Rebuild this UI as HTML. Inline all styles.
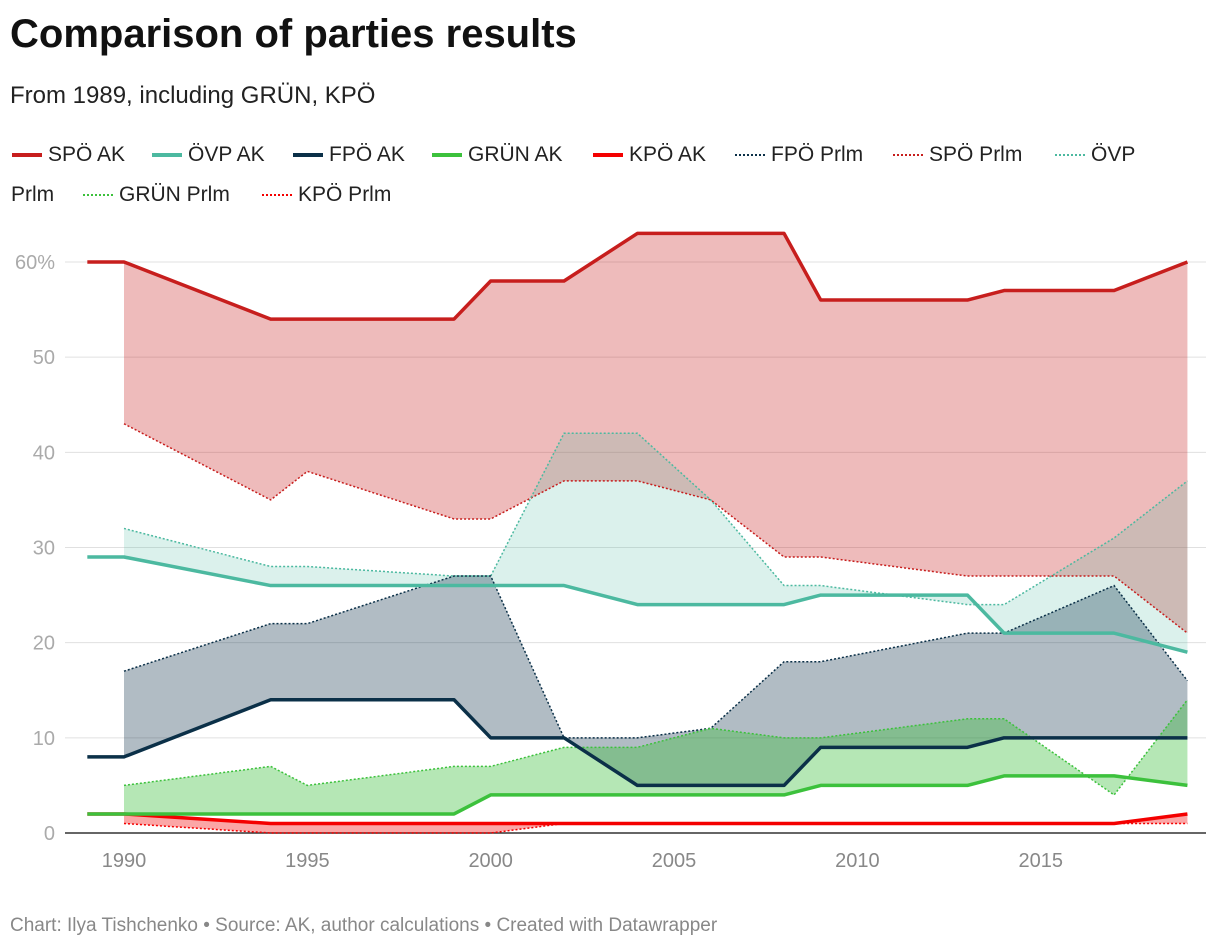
<!DOCTYPE html>
<html><head><meta charset="utf-8"><style>
body{margin:0;width:1220px;height:950px;background:#fff;font-family:"Liberation Sans",sans-serif;position:relative;overflow:hidden}
.t{position:absolute;white-space:nowrap}
.leg{position:absolute;font-size:21px;color:#222;white-space:nowrap}
</style></head><body>
<div class="t" style="left:10px;top:12px;font-size:40px;font-weight:bold;color:#111">Comparison of parties results</div>
<div class="t" style="left:10px;top:82px;font-size:24px;color:#222">From 1989, including GRÜN, KPÖ</div>
<div id="legend"></div>
<svg id="chart" width="1220" height="950" style="position:absolute;left:0;top:0"></svg>
<div class="t" style="left:10px;top:915px;font-size:19px;color:#888">Chart: Ilya Tishchenko • Source: AK, author calculations • Created with Datawrapper</div>
<script>
const years=[1989,1990,1994,1995,1999,2000,2002,2004,2006,2008,2009,2013,2014,2017,2019];
const spoAK=[60,60,54,54,54,58,58,63,63,63,56,56,57,57,60];
const ovpAK=[29,29,26,26,26,26,26,24,24,24,25,25,21,21,19];
const fpoAK=[8,8,14,14,14,10,10,5,5,5,9,9,10,10,10];
const grunAK=[2,2,2,2,2,4,4,4,4,4,5,5,6,6,5];
const kpoAK=[2,2,1,1,1,1,1,1,1,1,1,1,1,1,2];
const spoPr=[null,43,35,38,33,33,37,37,35,29,29,27,27,27,21];
const ovpPr=[null,32,28,28,27,27,42,42,35,26,26,24,24,31,37];
const fpoPr=[null,17,22,22,27,27,10,10,11,18,18,21,21,26,16];
const grunPr=[null,5,7,5,7,7,9,9,11,10,10,12,12,4,14];
const kpoPr=[null,1,0,0,0,0,1,1,1,1,1,1,1,1,1];
const yTicks=[0,10,20,30,40,50,60];
const xTicks=[1990,1995,2000,2005,2010,2015];
const X=y=>124+(y-1990)*36.67;
const Y=v=>833-v*9.517;
const NS="http://www.w3.org/2000/svg";
const svg=document.getElementById('chart');
function mk(tag,a){const e=document.createElementNS(NS,tag);for(const k in a)e.setAttribute(k,a[k]);svg.appendChild(e);return e;}
yTicks.forEach(v=>{
  const g=mk('line',{x1:65,x2:1206,y1:Y(v),y2:Y(v),stroke:v?'#e0e0e0':'#333','stroke-width':v?1:1.5});
  
  
  const t=mk('text',{x:55,y:Y(v)+7,'text-anchor':'end','font-size':20,fill:'#aaa'});
  t.textContent=v===60?'60%':v;
  
  
});
xTicks.forEach(v=>{
  const t=mk('text',{x:X(v),y:867,'text-anchor':'middle','font-size':20,fill:'#888'});
  t.textContent=v;
  
  
});
const parties=[
 ['spo',spoAK,spoPr,'#c71e1d',0.3],
 ['ovp',ovpAK,ovpPr,'#4cb9a0',0.2],
 ['fpo',fpoAK,fpoPr,'#0b3048',0.32],
 ['grun',grunAK,grunPr,'#3cc13c',0.38],
 ['kpo',kpoAK,kpoPr,'#f40000',0.35]];
parties.forEach(([n,ak,pr,c,op])=>{
  let top=[],bot=[];
  years.forEach((y,i)=>{if(pr[i]!==null){top.push(X(y)+','+Y(ak[i]));bot.unshift(X(y)+','+Y(pr[i]));}});
  const a=mk('polygon',{points:top.concat(bot).join(' '),fill:c,'fill-opacity':op});
  
  
});
parties.forEach(([n,ak,pr,c])=>{
  const p=years.map((y,i)=>pr[i]===null?null:X(y)+','+Y(pr[i])).filter(s=>s).join(' ');
  const l=mk('polyline',{points:p,fill:'none',stroke:c,'stroke-width':1.5,'stroke-dasharray':'2,2'});
  
  
});
parties.slice().reverse().forEach(([n,ak,pr,c])=>{
  const p=years.map((y,i)=>X(y)+','+Y(ak[i])).join(' ');
  const l=mk('polyline',{points:p,fill:'none',stroke:c,'stroke-width':3.5,'stroke-linejoin':'round'});
  
  
});
const leg=[['SPÖ AK','#c71e1d',0,12,143],['ÖVP AK','#4cb9a0',0,152,143],['FPÖ AK','#0b3048',0,293,143],['GRÜN AK','#3cc13c',0,432,143],['KPÖ AK','#f40000',0,593,143],
['FPÖ Prlm','#0b3048',1,735,143],['SPÖ Prlm','#c71e1d',1,893,143],['ÖVP','#4cb9a0',1,1055,143],['GRÜN Prlm','#3cc13c',1,83,183],['KPÖ Prlm','#f40000',1,262,183]];
const L=document.getElementById('legend');
leg.forEach(([t,c,d,x,y])=>{
  const e=document.createElement('div');
  e.className='leg';
  e.style.left=x+'px';e.style.top=y+'px';
  
  
  e.innerHTML='<span style="display:inline-block;width:30px;vertical-align:middle;margin-right:6px;border-top:'+(d?'2px dotted ':'4px solid ')+c+'"></span>'+t;
  L.appendChild(e);
});
const e2=document.createElement('div');e2.className='leg';e2.style.left='11px';e2.style.top='183px';e2.textContent='Prlm';


L.appendChild(e2);
</script>
</body></html>
